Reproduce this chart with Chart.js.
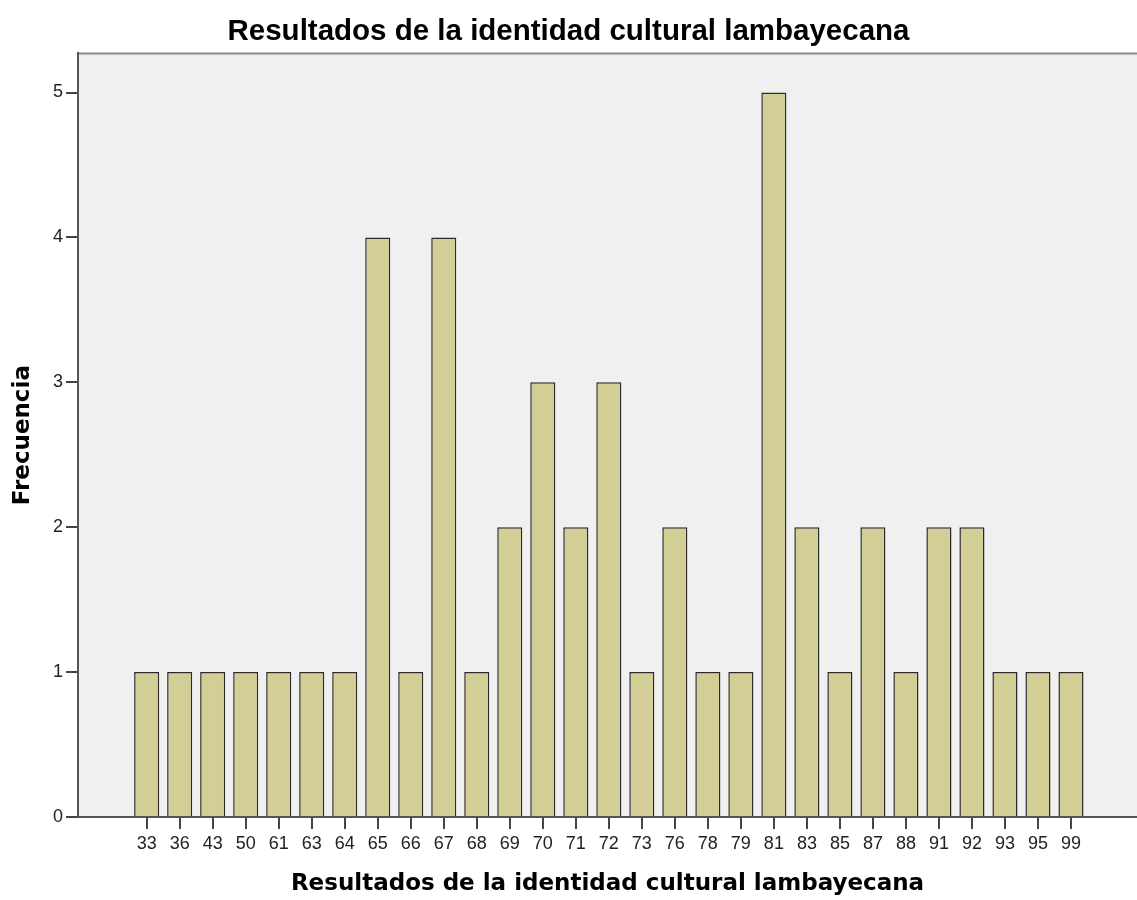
<!DOCTYPE html>
<html>
<head>
<meta charset="utf-8">
<script src="https://cdn.jsdelivr.net/npm/chart.js@4"></script>
<style>
  html, body { margin: 0; padding: 0; background: #fff; }
  #wrap { width: 1137px; height: 900px; }
</style>
</head>
<body>
<div id="wrap"><canvas id="grafico" width="1137" height="900"></canvas></div>
<script>
/* DATOS */
const categorias = ['33','36','43','50','61','63','64','65','66','67','68','69','70','71','72','73','76','78','79','81','83','85','87','88','91','92','93','95','99'];
const frecuencias = [1,1,1,1,1,1,1,4,1,4,1,2,3,2,3,1,2,1,1,5,2,1,2,1,2,2,1,1,1];
const ticksY = [0,1,2,3,4,5];

const titulo = 'Resultados de la identidad cultural lambayecana';

/* fondo gris del área del gráfico */
const fondo = {
  id: 'fondo',
  beforeDraw(chart) {
    const a = chart.chartArea, c = chart.ctx;
    c.save();
    c.fillStyle = '#f0f0f0';
    c.fillRect(a.left, a.top, a.right - a.left, a.bottom - a.top);
    c.strokeStyle = '#8a8a8a';
    c.lineWidth = 2;
    c.beginPath();
    c.moveTo(a.left, a.top);
    c.lineTo(a.right, a.top);
    c.stroke();
    c.restore();
  }
};

new Chart(document.getElementById('grafico'), {
  type: 'bar',
  data: {
    datasets: [{
      data: frecuencias.map((v, i) => ({ x: i, y: v })),
      backgroundColor: '#d3ce96',
      borderColor: '#2a2a2a',
      borderWidth: 1.5,
      barPercentage: 0.76,
      categoryPercentage: 1
    }]
  },
  options: {
    responsive: false,
    animation: false,
    layout: { padding: 0 },
    plugins: {
      legend: { display: false },
      tooltip: { enabled: false },
      title: {
        display: true,
        text: titulo,
        color: '#000',
        font: { family: 'Liberation Sans, Arial', size: 29.5, weight: 'bold' },
        padding: { top: 14, bottom: 4 }
      }
    },
    scales: {
      x: {
        type: 'linear',
        offset: false,
        min: -2.08,
        max: 30,
        afterBuildTicks: s => { s.ticks = categorias.map((c, i) => ({ value: i })); },
        afterFit: s => { s.height = 83; },
        ticks: {
          autoSkip: false,
          maxRotation: 0,
          color: '#222',
          padding: 4,
          font: { family: 'Liberation Sans, Arial', size: 18 },
          callback: v => categorias[v]
        },
        grid: { offset: false, drawOnChartArea: false, drawTicks: true, tickLength: 12, color: '#444', lineWidth: 2 },
        border: { display: true, color: '#555', width: 2 },
        title: {
          display: true,
          text: titulo,
          color: '#000',
          font: { family: 'DejaVu Sans', size: 23, weight: 'bold' },
          padding: { top: 0, bottom: 2 }
        }
      },
      y: {
        min: 0,
        max: 5.27,
        afterBuildTicks: s => { s.ticks = ticksY.map(v => ({ value: v })); },
        afterFit: s => { s.width = 78; },
        ticks: {
          color: '#222',
          padding: 3,
          font: { family: 'Liberation Sans, Arial', size: 18 }
        },
        grid: { drawOnChartArea: false, drawTicks: true, tickLength: 12, color: '#444', lineWidth: 2 },
        border: { display: true, color: '#555', width: 2 },
        title: {
          display: true,
          text: 'Frecuencia',
          color: '#000',
          font: { family: 'DejaVu Sans', size: 23, weight: 'bold' },
          padding: { top: 9, bottom: 0 }
        }
      }
    }
  },
  plugins: [fondo]
});
</script>
</body>
</html>
